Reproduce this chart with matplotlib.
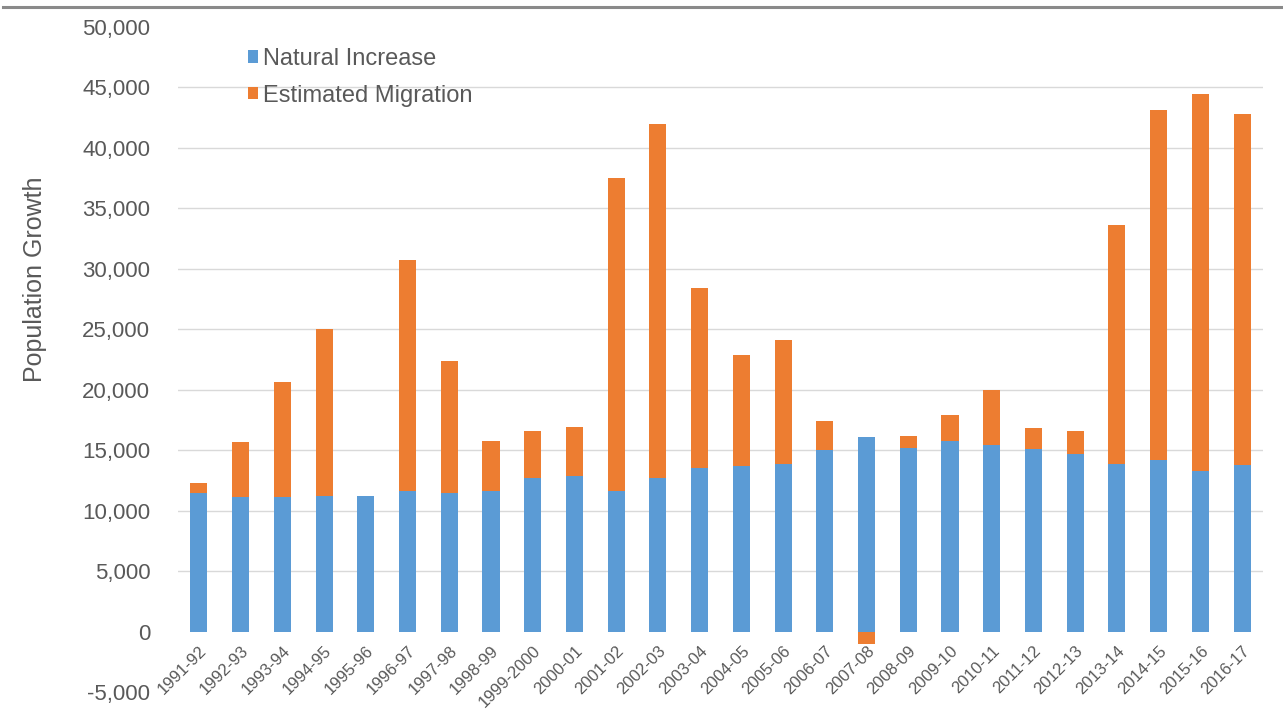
import numpy as np
import matplotlib
matplotlib.use("Agg")
import matplotlib.pyplot as plt
from matplotlib.lines import Line2D

# Financial years
periods = ['1991-92', '1992-93', '1993-94', '1994-95', '1995-96', '1996-97',
           '1997-98', '1998-99', '1999-2000', '2000-01', '2001-02', '2002-03',
           '2003-04', '2004-05', '2005-06', '2006-07', '2007-08', '2008-09',
           '2009-10', '2010-11', '2011-12', '2012-13', '2013-14', '2014-15',
           '2015-16', '2016-17']

# Components of population growth (persons)
natural_increase = [11500, 11100, 11100, 11250, 11200, 11600, 11500, 11600,
                    12700, 12900, 11650, 12700, 13500, 13700, 13900, 15000,
                    16050, 15150, 15800, 15400, 15100, 14700, 13900, 14200,
                    13300, 13800]
estimated_migration = [800, 4600, 9500, 13800, 0, 19100, 10900, 4200,
                       3900, 4000, 25850, 29250, 14900, 9200, 10200, 2400,
                       -1050, 1050, 2150, 4550, 1700, 1900, 19750, 28900,
                       31100, 29000]

y_ticks = list(range(-5000, 50001, 5000))
grid_levels = list(range(5000, 45001, 5000))

BLUE = '#5B9BD5'
ORANGE = '#ED7D31'
TEXT = '#595959'

plt.rcParams['font.family'] = ['Liberation Sans', 'DejaVu Sans']

W, H = 1283, 718
fig = plt.figure(figsize=(W / 100, H / 100), dpi=100)
ax = fig.add_axes([178 / W, 1 - 692.2 / H, (1263 - 178) / W, (692.2 - 26.7) / H])

x = np.arange(len(periods))
nat = np.array(natural_increase, dtype=float)
mig = np.array(estimated_migration, dtype=float)
# Negative migration stacks downward from zero, positive on top of natural increase
mig_bottom = np.where(mig >= 0, nat, 0)

for lv in grid_levels:
    ax.axhline(lv, color='#d9d9d9', lw=1.0, zorder=0)

bw = 0.41
ax.bar(x, nat, width=bw, color=BLUE, label='Natural Increase', zorder=2)
ax.bar(x, mig, width=bw, bottom=mig_bottom, color=ORANGE,
       label='Estimated Migration', zorder=2)

ax.set_xlim(-0.5, len(periods) - 0.5)
ax.set_ylim(-5000, 50000)
ax.set_yticks(y_ticks)
ax.set_yticklabels([f'{v:,}' for v in y_ticks], fontsize=16, color=TEXT)
ax.tick_params(axis='y', length=0, pad=20)

# Category axis crosses at zero, so its labels hang just below the baseline
ax.spines['bottom'].set_position(('data', 0))
ax.set_xticks(x)
ax.set_xticklabels(periods, rotation=45, ha='right', rotation_mode='anchor',
                   fontsize=12, color=TEXT)
ax.tick_params(axis='x', length=0, pad=8)

for s in ax.spines.values():
    s.set_visible(False)

fig.text(35 / W, 1 - 279 / H, 'Population Growth', rotation=90,
         ha='center', va='center', fontsize=18, color=TEXT)

leg = ax.legend(loc='upper left', bbox_to_anchor=(248 / W, 1 - 48 / H),
                bbox_transform=fig.transFigure, frameon=False, fontsize=17,
                handlelength=0.42, handleheight=0.42, handletextpad=0.2,
                labelspacing=0.62, borderpad=0, borderaxespad=0)
for t in leg.get_texts():
    t.set_color(TEXT)

# Rule across the top of the figure
fig.add_artist(Line2D([0.002, 1.0], [1 - 6.5 / H, 1 - 6.5 / H],
                      transform=fig.transFigure, color='#8a8a8a', lw=2.2))

fig.savefig('out.png', dpi=100, facecolor='white')
